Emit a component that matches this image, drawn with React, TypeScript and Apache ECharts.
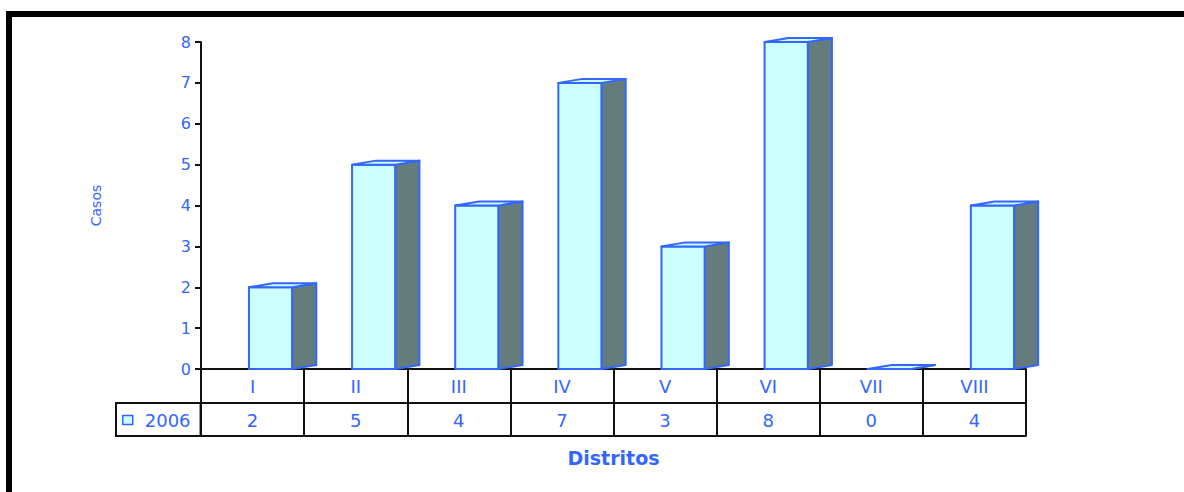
import React, { useEffect, useRef } from "react";
import * as echarts from "echarts";

const categories = ["I", "II", "III", "IV", "V", "VI", "VII", "VIII"];
const values = [2, 5, 4, 7, 3, 8, 0, 4];
const seriesName = "2006";
const yMin = 0;
const yMax = 8;
const yInterval = 1;
const xTitle = "Distritos";
const yTitle = "Casos";

const BLUE = "#3366FF";
const FRONT = "#CCFFFF";
const SIDE = "#647D7C";
const FONT = "DejaVu Sans";

export default function App() {
  const ref = useRef<HTMLDivElement>(null);
  useEffect(() => {
    if (!ref.current) return;
    const chart = echarts.init(ref.current, null, { renderer: "svg" });
    const renderItem = (params: any, api: any) => {
      const idx = api.value(0);
      const v = api.value(1);
      const top = api.coord([idx, v]);
      const base = api.coord([idx, 0]);
      const bw = api.size([1, 0])[0];
      const xl = top[0] - 0.035 * bw;
      const xr = xl + 0.42 * bw;
      const dx = 0.233 * bw;
      const dy = -4;
      const yt = top[1];
      const yb = base[1];
      const stroke = { stroke: BLUE, lineWidth: 2, lineJoin: "round" };
      return {
        type: "group",
        children: [
          {
            type: "polygon",
            shape: { points: [[xl, yt], [xr, yt], [xr, yb], [xl, yb]] },
            style: { fill: FRONT, ...stroke },
          },
          {
            type: "polygon",
            shape: { points: [[xr, yt], [xr + dx, yt + dy], [xr + dx, yb + dy], [xr, yb]] },
            style: { fill: SIDE, ...stroke },
          },
          {
            type: "polygon",
            shape: { points: [[xl, yt], [xl + dx, yt + dy], [xr + dx, yt + dy], [xr, yt]] },
            style: { fill: FRONT, ...stroke },
          },
        ],
      };
    };
    const tableLine = { color: "#111", width: 2 };
    chart.setOption({
      animation: false,
      grid: { left: 201, right: 158, top: 42, bottom: 123, containLabel: false },
      graphic: [
        {
          type: "rect",
          z: -10,
          shape: { x: 9, y: 14, width: 1400, height: 800 },
          style: { fill: "none", stroke: "#000", lineWidth: 6 },
        },
      ],
      legend: {
        data: [
          {
            name: seriesName,
            itemStyle: { color: FRONT, borderColor: BLUE, borderWidth: 1.5 },
          },
        ],
        left: 116,
        top: 403,
        orient: "horizontal",
        icon: "rect",
        itemWidth: 10,
        itemHeight: 9,
        padding: [8, 10, 7, 6],
        borderColor: "#111",
        borderWidth: 2,
        textStyle: { color: BLUE, fontSize: 18, fontFamily: FONT, padding: [0, 0, 0, 7] },
      },
      xAxis: [
        {
          type: "category",
          data: categories,
          position: "bottom",
          axisLine: { show: true, lineStyle: tableLine },
          axisTick: { show: true, interval: 0, length: 34, lineStyle: tableLine },
          axisLabel: { color: BLUE, fontSize: 18, fontFamily: FONT, margin: 8, interval: 0 },
          splitLine: { show: false },
        },
        {
          type: "category",
          data: values.map((v) => String(v)),
          position: "bottom",
          offset: 34,
          axisLine: { show: true, lineStyle: tableLine },
          axisTick: { show: true, interval: 0, length: 33, lineStyle: tableLine },
          axisLabel: { color: BLUE, fontSize: 18, fontFamily: FONT, margin: 8, interval: 0 },
          splitLine: { show: false },
        },
        {
          type: "category",
          data: categories,
          position: "bottom",
          offset: 67,
          axisLine: { show: true, lineStyle: tableLine },
          axisTick: { show: false },
          axisLabel: { show: false },
          name: xTitle,
          nameLocation: "middle",
          nameGap: 12,
          nameTextStyle: { color: BLUE, fontSize: 19, fontWeight: "bold", fontFamily: FONT },
        },
      ],
      yAxis: {
        type: "value",
        min: yMin,
        max: yMax,
        interval: yInterval,
        name: yTitle,
        nameLocation: "middle",
        nameGap: 98,
        nameTextStyle: { color: BLUE, fontSize: 14, fontFamily: FONT },
        axisLine: { show: true, lineStyle: { color: "#111", width: 2 } },
        axisTick: { show: true, length: 6, lineStyle: { color: "#111", width: 2 } },
        axisLabel: { color: BLUE, fontSize: 16, fontFamily: FONT, margin: 10 },
        splitLine: { show: false },
      },
      series: [
        {
          name: seriesName,
          type: "custom",
          xAxisIndex: 0,
          yAxisIndex: 0,
          renderItem,
          encode: { x: 0, y: 1 },
          itemStyle: { color: FRONT, borderColor: BLUE, borderWidth: 1.5 },
          data: values.map((v, i) => [i, v]),
          clip: false,
        },
      ],
    });
    return () => chart.dispose();
  }, []);
  return (
    <div
      ref={ref}
      style={{ position: "absolute", left: 0, top: 0, width: 1184, height: 492, background: "#fff" }}
    />
  );
}
